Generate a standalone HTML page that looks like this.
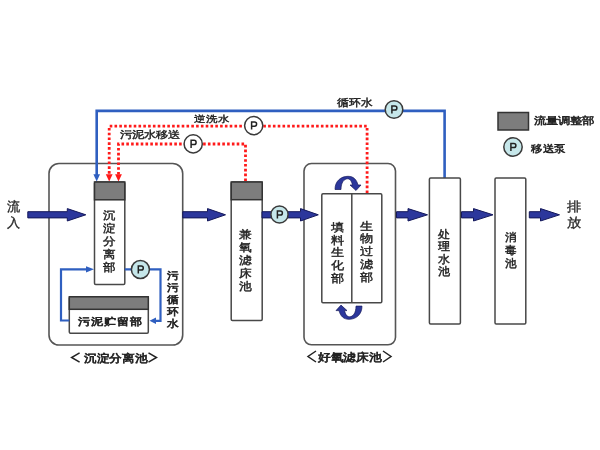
<!DOCTYPE html><html><head><meta charset="utf-8"><style>html,body{margin:0;padding:0;background:#fff;width:600px;height:450px;overflow:hidden}svg{position:absolute;left:0;top:0;will-change:transform}text{font-family:"Liberation Sans",sans-serif}</style></head><body>
<svg width="600" height="450" viewBox="0 0 600 450">
<rect x="49" y="163.5" width="133.7" height="181.5" rx="10" fill="none" stroke="#555" stroke-width="1.6"/>
<rect x="304" y="163.5" width="91.5" height="181.3" rx="7.5" fill="none" stroke="#555" stroke-width="1.6"/>
<polyline points="444.6,178 444.6,110.9 96.7,110.9 96.7,175" fill="none" stroke="#2f5fc0" stroke-width="2.6"/>
<polygon points="93.4,174.2 100,174.2 96.7,181.5" fill="#2f5fc0"/>
<polyline points="367.1,193 367.1,126.2 109.2,126.2 109.2,175" fill="none" stroke="#ff1a1a" stroke-width="2.8" stroke-dasharray="2.6 2.2"/>
<polygon points="105.8,174.2 112.6,174.2 109.2,181.5" fill="#ff1a1a"/>
<polyline points="245.5,181 245.5,144 118.5,144 118.5,175" fill="none" stroke="#ff1a1a" stroke-width="2.8" stroke-dasharray="2.6 2.2"/>
<polygon points="115.1,174.2 121.9,174.2 118.5,181.5" fill="#ff1a1a"/>
<rect x="94.5" y="182" width="30.3" height="102.5" rx="1.2" fill="#fff" stroke="#484848" stroke-width="1.5"/>
<rect x="94.5" y="182" width="30.3" height="17.8" fill="#7d7d7d" stroke="#333" stroke-width="1.5"/>
<rect x="69.3" y="296.8" width="79" height="36.4" rx="1.2" fill="#fff" stroke="#484848" stroke-width="1.5"/>
<rect x="69.3" y="296.8" width="79" height="12.5" fill="#7d7d7d" stroke="#333" stroke-width="1.5"/>
<rect x="231.2" y="182" width="31" height="138.5" rx="1.2" fill="#fff" stroke="#484848" stroke-width="1.5"/>
<rect x="231.2" y="182" width="31" height="17.7" fill="#7d7d7d" stroke="#333" stroke-width="1.5"/>
<rect x="321.8" y="193.7" width="60" height="109" rx="1.2" fill="#fff" stroke="#484848" stroke-width="1.5"/>
<line x1="351.8" y1="193.7" x2="351.8" y2="302.7" stroke="#484848" stroke-width="1.5"/>
<rect x="429.4" y="178" width="31" height="146" rx="1.2" fill="#fff" stroke="#484848" stroke-width="1.5"/>
<rect x="495" y="178" width="30.8" height="146" rx="1.2" fill="#fff" stroke="#484848" stroke-width="1.5"/>
<polyline points="124.8,269.3 160.5,269.3 160.5,320.8 155,320.8" fill="none" stroke="#2f5fc0" stroke-width="2.2"/>
<polygon points="156,317.6 156,324 149.5,320.8" fill="#2f5fc0"/>
<polyline points="69.3,320.5 61,320.5 61,269.3 87,269.3" fill="none" stroke="#2f5fc0" stroke-width="2.2"/>
<polygon points="86,266.2 86,272.4 94,269.3" fill="#2f5fc0"/>
<path d="M27.8,211.70000000000002 H67.3 V208.60000000000002 L85.8,214.8 L67.3,221.0 V217.9 H27.8 Z" fill="#2c379c" stroke="#14185a" stroke-width="1" stroke-linejoin="miter"/>
<path d="M182.8,211.70000000000002 H207.5 V208.60000000000002 L225.5,214.8 L207.5,221.0 V217.9 H182.8 Z" fill="#2c379c" stroke="#14185a" stroke-width="1" stroke-linejoin="miter"/>
<path d="M262,211.70000000000002 H300.5 V208.60000000000002 L318.3,214.8 L300.5,221.0 V217.9 H262 Z" fill="#2c379c" stroke="#14185a" stroke-width="1" stroke-linejoin="miter"/>
<path d="M396.5,211.70000000000002 H408 V208.60000000000002 L427.5,214.8 L408,221.0 V217.9 H396.5 Z" fill="#2c379c" stroke="#14185a" stroke-width="1" stroke-linejoin="miter"/>
<path d="M461.5,211.70000000000002 H473.5 V208.60000000000002 L493,214.8 L473.5,221.0 V217.9 H461.5 Z" fill="#2c379c" stroke="#14185a" stroke-width="1" stroke-linejoin="miter"/>
<path d="M529.3,211.70000000000002 H540.5 V208.60000000000002 L559.5,214.8 L540.5,221.0 V217.9 H529.3 Z" fill="#2c379c" stroke="#14185a" stroke-width="1" stroke-linejoin="miter"/>
<path d="M335,189.5 C335,181 341,176.3 348,176.3 C353.5,176.3 356.5,179.5 358,185 L361,185 L356,190.5 L350,185 L352.5,185 C351.5,181 350,178.8 347.6,178.8 C344,178.8 341,182.5 341,189.5 Z" fill="#2c379c" stroke="#14185a" stroke-width="0.7"/>
<g transform="rotate(180 348.5 247.8)"><path d="M335,189.5 C335,181 341,176.3 348,176.3 C353.5,176.3 356.5,179.5 358,185 L361,185 L356,190.5 L350,185 L352.5,185 C351.5,181 350,178.8 347.6,178.8 C344,178.8 341,182.5 341,189.5 Z" fill="#2c379c" stroke="#14185a" stroke-width="0.7"/></g>
<circle cx="394" cy="109.5" r="8.8" fill="#c6e7ea" stroke="#3a3a3a" stroke-width="1.5"/>
<path transform="translate(394,109.5)" d="M-2.1,4 V-3.6 H0.8 A2.1,2.1 0 0 1 0.8,0.6 H-2.1" fill="none" stroke="#222" stroke-width="1.5"/>
<circle cx="253.7" cy="125.6" r="9.1" fill="#fff" stroke="#3a3a3a" stroke-width="1.5"/>
<path transform="translate(253.7,125.6)" d="M-2.1,4 V-3.6 H0.8 A2.1,2.1 0 0 1 0.8,0.6 H-2.1" fill="none" stroke="#222" stroke-width="1.5"/>
<circle cx="193.2" cy="143.9" r="9.1" fill="#fff" stroke="#3a3a3a" stroke-width="1.5"/>
<path transform="translate(193.2,143.9)" d="M-2.1,4 V-3.6 H0.8 A2.1,2.1 0 0 1 0.8,0.6 H-2.1" fill="none" stroke="#222" stroke-width="1.5"/>
<circle cx="140.4" cy="269.5" r="9.0" fill="#c6e7ea" stroke="#3a3a3a" stroke-width="1.5"/>
<path transform="translate(140.4,269.5)" d="M-2.1,4 V-3.6 H0.8 A2.1,2.1 0 0 1 0.8,0.6 H-2.1" fill="none" stroke="#222" stroke-width="1.5"/>
<circle cx="279.5" cy="214.5" r="8.6" fill="#c6e7ea" stroke="#3a3a3a" stroke-width="1.5"/>
<path transform="translate(279.5,214.5)" d="M-2.1,4 V-3.6 H0.8 A2.1,2.1 0 0 1 0.8,0.6 H-2.1" fill="none" stroke="#222" stroke-width="1.5"/>
<circle cx="513" cy="147" r="9.2" fill="#c6e7ea" stroke="#3a3a3a" stroke-width="1.5"/>
<path transform="translate(513,147)" d="M-2.1,4 V-3.6 H0.8 A2.1,2.1 0 0 1 0.8,0.6 H-2.1" fill="none" stroke="#222" stroke-width="1.5"/>
<rect x="498" y="112.5" width="30.5" height="17.5" fill="#7d7d7d" stroke="#333" stroke-width="1.5"/>
<polyline points="79.6,352.8 71.6,357.5 79.6,362.2" fill="none" stroke="#222" stroke-width="1.5"/>
<polyline points="148.5,352.8 156.5,357.5 148.5,362.2" fill="none" stroke="#222" stroke-width="1.5"/>
<polyline points="316,351 308,356.5 316,362" fill="none" stroke="#222" stroke-width="1.5"/>
<polyline points="383,351 391,356.5 383,362" fill="none" stroke="#222" stroke-width="1.5"/>
<text transform="translate(534.02,124.15) scale(0.2381,0.1918)" font-size="50" stroke="#222" stroke-width="2.520" fill="#222">流量调整部</text>
<text transform="translate(530.83,151.59) scale(0.2307,0.2021)" font-size="50" stroke="#222" stroke-width="2.601" fill="#222">移送泵</text>
<text transform="translate(337.32,105.76) scale(0.2428,0.2062)" font-size="50" stroke="#222" stroke-width="2.059" fill="#222">循环水</text>
<text transform="translate(194.02,122.26) scale(0.2415,0.1897)" font-size="50" stroke="#222" stroke-width="2.071" fill="#222">逆洗水</text>
<text transform="translate(120.01,138.39) scale(0.2481,0.2021)" font-size="50" stroke="#222" stroke-width="2.015" fill="#222">污泥水移送</text>
<text transform="translate(77.81,325.05) scale(0.2510,0.2082)" font-size="50" stroke="#222" stroke-width="2.989" fill="#222">污泥贮留部</text>
<text transform="translate(83.81,361.50) scale(0.2489,0.2165)" font-size="50" stroke="#222" stroke-width="3.013" fill="#222">沉淀分离池</text>
<text transform="translate(317.81,360.66) scale(0.2578,0.2227)" font-size="50" stroke="#222" stroke-width="2.909" fill="#222">好氧滤床池</text>
<text transform="translate(13.10,211.10) scale(0.2694,0.2660)" text-anchor="middle" font-size="50" stroke="#2a2a2a" stroke-width="1.299" fill="#2a2a2a">流</text>
<text transform="translate(13.10,226.70) scale(0.2694,0.2660)" text-anchor="middle" font-size="50" stroke="#2a2a2a" stroke-width="1.299" fill="#2a2a2a">入</text>
<text transform="translate(574.70,211.42) scale(0.2902,0.2639)" text-anchor="middle" font-size="50" stroke="#2a2a2a" stroke-width="1.206" fill="#2a2a2a">排</text>
<text transform="translate(574.70,226.82) scale(0.2902,0.2639)" text-anchor="middle" font-size="50" stroke="#2a2a2a" stroke-width="1.206" fill="#2a2a2a">放</text>
<text transform="translate(109.60,219.49) scale(0.2487,0.2186)" text-anchor="middle" font-size="50" stroke="#222" stroke-width="1.809" fill="#222">沉</text>
<text transform="translate(109.60,232.41) scale(0.2487,0.2186)" text-anchor="middle" font-size="50" stroke="#222" stroke-width="1.809" fill="#222">淀</text>
<text transform="translate(109.60,245.34) scale(0.2487,0.2186)" text-anchor="middle" font-size="50" stroke="#222" stroke-width="1.809" fill="#222">分</text>
<text transform="translate(109.60,258.26) scale(0.2487,0.2186)" text-anchor="middle" font-size="50" stroke="#222" stroke-width="1.809" fill="#222">离</text>
<text transform="translate(109.60,271.19) scale(0.2487,0.2186)" text-anchor="middle" font-size="50" stroke="#222" stroke-width="1.809" fill="#222">部</text>
<text transform="translate(245.60,238.41) scale(0.2487,0.2144)" text-anchor="middle" font-size="50" stroke="#222" stroke-width="1.809" fill="#222">兼</text>
<text transform="translate(245.60,251.39) scale(0.2487,0.2144)" text-anchor="middle" font-size="50" stroke="#222" stroke-width="1.809" fill="#222">氧</text>
<text transform="translate(245.60,264.36) scale(0.2487,0.2144)" text-anchor="middle" font-size="50" stroke="#222" stroke-width="1.809" fill="#222">滤</text>
<text transform="translate(245.60,277.34) scale(0.2487,0.2144)" text-anchor="middle" font-size="50" stroke="#222" stroke-width="1.809" fill="#222">床</text>
<text transform="translate(245.60,290.31) scale(0.2487,0.2144)" text-anchor="middle" font-size="50" stroke="#222" stroke-width="1.809" fill="#222">池</text>
<text transform="translate(337.50,230.61) scale(0.2570,0.2144)" text-anchor="middle" font-size="50" stroke="#222" stroke-width="1.751" fill="#222">填</text>
<text transform="translate(337.50,243.54) scale(0.2570,0.2144)" text-anchor="middle" font-size="50" stroke="#222" stroke-width="1.751" fill="#222">料</text>
<text transform="translate(337.50,256.46) scale(0.2570,0.2144)" text-anchor="middle" font-size="50" stroke="#222" stroke-width="1.751" fill="#222">生</text>
<text transform="translate(337.50,269.39) scale(0.2570,0.2144)" text-anchor="middle" font-size="50" stroke="#222" stroke-width="1.751" fill="#222">化</text>
<text transform="translate(337.50,282.31) scale(0.2570,0.2144)" text-anchor="middle" font-size="50" stroke="#222" stroke-width="1.751" fill="#222">部</text>
<text transform="translate(366.40,229.51) scale(0.2570,0.2144)" text-anchor="middle" font-size="50" stroke="#222" stroke-width="1.751" fill="#222">生</text>
<text transform="translate(366.40,242.39) scale(0.2570,0.2144)" text-anchor="middle" font-size="50" stroke="#222" stroke-width="1.751" fill="#222">物</text>
<text transform="translate(366.40,255.26) scale(0.2570,0.2144)" text-anchor="middle" font-size="50" stroke="#222" stroke-width="1.751" fill="#222">过</text>
<text transform="translate(366.40,268.14) scale(0.2570,0.2144)" text-anchor="middle" font-size="50" stroke="#222" stroke-width="1.751" fill="#222">滤</text>
<text transform="translate(366.40,281.01) scale(0.2570,0.2144)" text-anchor="middle" font-size="50" stroke="#222" stroke-width="1.751" fill="#222">部</text>
<text transform="translate(444.30,237.96) scale(0.2446,0.2227)" text-anchor="middle" font-size="50" stroke="#222" stroke-width="1.840" fill="#222">处</text>
<text transform="translate(444.30,250.43) scale(0.2446,0.2227)" text-anchor="middle" font-size="50" stroke="#222" stroke-width="1.840" fill="#222">理</text>
<text transform="translate(444.30,262.90) scale(0.2446,0.2227)" text-anchor="middle" font-size="50" stroke="#222" stroke-width="1.840" fill="#222">水</text>
<text transform="translate(444.30,275.36) scale(0.2446,0.2227)" text-anchor="middle" font-size="50" stroke="#222" stroke-width="1.840" fill="#222">池</text>
<text transform="translate(510.30,241.20) scale(0.2280,0.2165)" text-anchor="middle" font-size="50" stroke="#222" stroke-width="1.974" fill="#222">消</text>
<text transform="translate(510.30,253.95) scale(0.2280,0.2165)" text-anchor="middle" font-size="50" stroke="#222" stroke-width="1.974" fill="#222">毒</text>
<text transform="translate(510.30,266.70) scale(0.2280,0.2165)" text-anchor="middle" font-size="50" stroke="#222" stroke-width="1.974" fill="#222">池</text>
<text transform="translate(172.70,279.26) scale(0.2404,0.2062)" text-anchor="middle" font-size="50" stroke="#222" stroke-width="2.912" fill="#222">污</text>
<text transform="translate(172.70,291.09) scale(0.2404,0.2062)" text-anchor="middle" font-size="50" stroke="#222" stroke-width="2.912" fill="#222">污</text>
<text transform="translate(172.70,302.91) scale(0.2404,0.2062)" text-anchor="middle" font-size="50" stroke="#222" stroke-width="2.912" fill="#222">循</text>
<text transform="translate(172.70,314.74) scale(0.2404,0.2062)" text-anchor="middle" font-size="50" stroke="#222" stroke-width="2.912" fill="#222">环</text>
<text transform="translate(172.70,326.56) scale(0.2404,0.2062)" text-anchor="middle" font-size="50" stroke="#222" stroke-width="2.912" fill="#222">水</text>
</svg></body></html>
